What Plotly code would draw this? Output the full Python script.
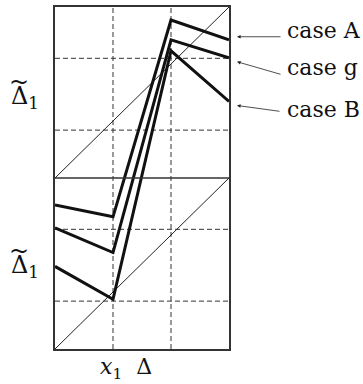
import plotly.graph_objects as go

# x positions of the polyline vertices
x_pts = [0, 1, 2, 3]

# three cases, stacked axis: lower panel 0..1, upper panel 1..2
case_A = [0.843, 0.773, 1.924, 1.808]
case_g = [0.709, 0.564, 1.808, 1.703]
case_B = [0.483, 0.291, 1.744, 1.448]

# reference diagonals (one per panel)
diag_x = [0, 3]
diag_lower = [0, 1]
diag_upper = [1, 2]

# dashed guide lines
vgrid = [1, 2]
hgrid = [0.28, 0.70, 1.28, 1.70]
panel_split = 1.0

case_labels = ["case A", "case g", "case B"]

SERIF = "DejaVu Serif"

fig = go.Figure()

for yy in (diag_lower, diag_upper):
    fig.add_trace(go.Scatter(x=diag_x, y=yy, mode="lines",
                             line=dict(color="#222", width=1), hoverinfo="skip"))

for ys in (case_A, case_g, case_B):
    fig.add_trace(go.Scatter(x=x_pts, y=ys, mode="lines",
                             line=dict(color="#111", width=3), hoverinfo="skip"))

for v in vgrid:
    fig.add_shape(type="line", x0=v, x1=v, y0=0, y1=2, xref="x", yref="y",
                  line=dict(color="#333", width=1, dash="5px,3px"), layer="below")
for h in hgrid:
    fig.add_shape(type="line", x0=0, x1=3, y0=h, y1=h, xref="x", yref="y",
                  line=dict(color="#333", width=1, dash="5px,3px"), layer="below")
fig.add_shape(type="line", x0=0, x1=3, y0=panel_split, y1=panel_split,
              xref="x", yref="y", line=dict(color="#333", width=1.5))

# right-hand labels with arrows (tips just right of the plot, paper coords)
tip_y = [0.913, 0.840, 0.712]
text_y = [1.86, 1.645, 1.40]
tails = [(45, 0), (45, 13), (44, 6)]
for lab, ty, yy, (ax, ay) in zip(case_labels, tip_y, text_y, tails):
    fig.add_annotation(x=1.046, y=ty, xref="paper", yref="paper", text="",
                       showarrow=True, ax=ax, ay=ay, arrowhead=2, arrowsize=0.9,
                       arrowwidth=0.8, arrowcolor="#222")
    fig.add_annotation(x=1.0, y=yy, xref="paper", yref="y", text=lab,
                       showarrow=False, xanchor="left", xshift=56,
                       font=dict(family=SERIF, size=22, color="#111"))

# left labels: Delta~_1 (tilde drawn as its own glyph)
for yy in (1.47, 0.483):
    fig.add_annotation(x=0, y=yy, xref="paper", yref="y", text="Δ<sub>1</sub>",
                       showarrow=False, xanchor="left", xshift=-46,
                       font=dict(family=SERIF, size=24, color="#111"))
    fig.add_annotation(x=0, y=yy + 0.09, xref="paper", yref="y", text="~",
                       showarrow=False, xanchor="center", xshift=-36,
                       font=dict(family=SERIF, size=24, color="#111"))

fig.add_annotation(x=0.408, y=0, xref="paper", yref="paper",
                   text="<i>x</i><sub>1</sub>  Δ", showarrow=False,
                   yanchor="top", yshift=-3,
                   font=dict(family=SERIF, size=22, color="#111"))

fig.update_xaxes(range=[0, 3], showgrid=False, zeroline=False, showticklabels=False,
                 ticks="", showline=True, linecolor="#333", linewidth=1.5, mirror=True)
fig.update_yaxes(range=[0, 2], showgrid=False, zeroline=False, showticklabels=False,
                 ticks="", showline=True, linecolor="#333", linewidth=1.5, mirror=True)

fig.update_layout(width=363, height=384, showlegend=False,
                  margin=dict(l=55, r=134, t=5, b=35),
                  plot_bgcolor="white", paper_bgcolor="white")

fig.write_html("out.html", config={"displayModeBar": False},
               post_script="document.body.style.margin='0';")
